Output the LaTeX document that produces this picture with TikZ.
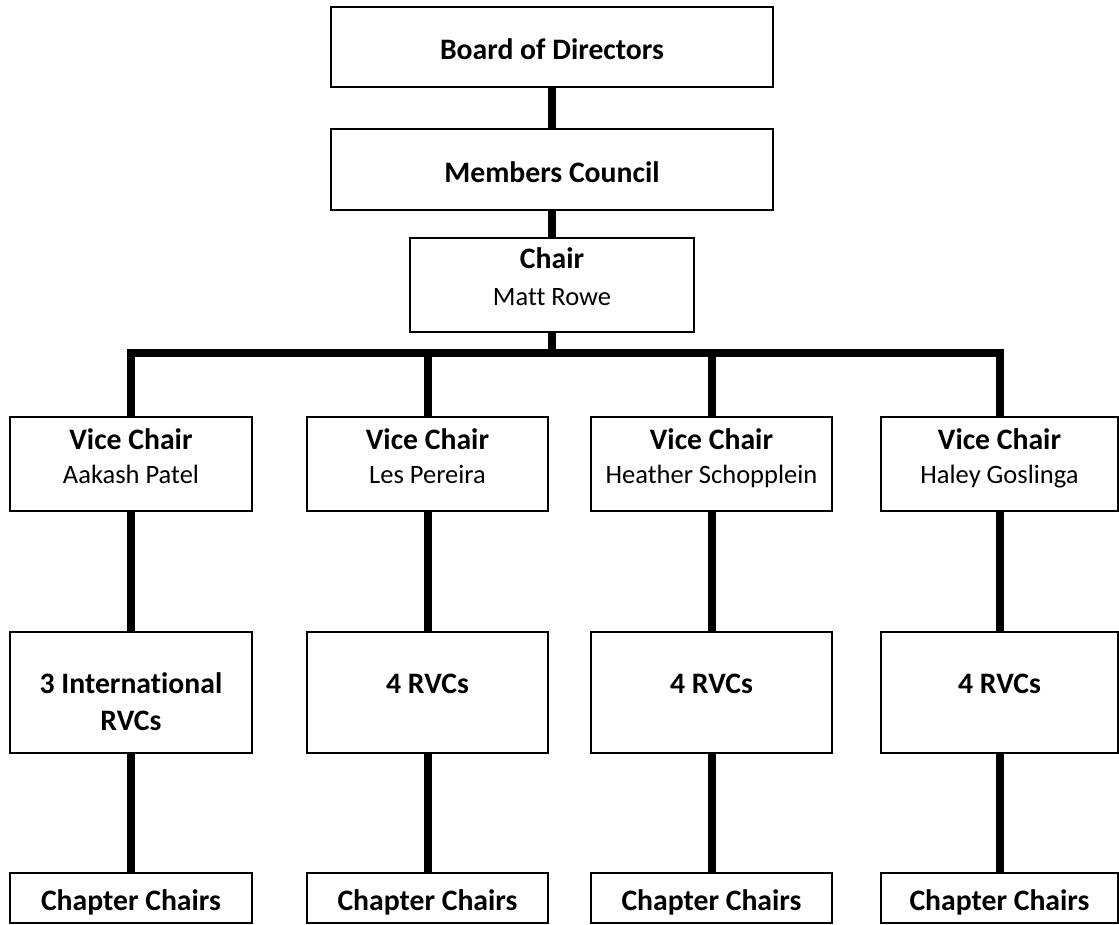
\documentclass[tikz,border=0pt]{standalone}
\usepackage{fontspec}
\setmainfont{Carlito}[Ligatures=CommonOff]
\begin{document}
\begin{tikzpicture}[x=1pt,y=-1pt,
  box/.style={draw=black, line width=1.6pt, fill=white, inner sep=0pt},
  link/.style={draw=black, line width=8pt, line join=miter},
  head/.style={anchor=base, inner sep=0pt, font=\fontsize{29.7}{36}\selectfont\bfseries},
  who/.style={anchor=base, inner sep=0pt, font=\fontsize{26.5}{36}\selectfont}]
\useasboundingbox (0,0) rectangle (1119,924);
% top chain
\node[box, minimum width=442pt, minimum height=80pt] (board) at (552,47) {};
\node[box, minimum width=442pt, minimum height=81pt] (members) at (552,169.5) {};
\node[box, minimum width=284pt, minimum height=94pt] (chair) at (552,285) {};
\node[head] (boardt) at (552,59) {Board of Directors};
\node[head] (memberst) at (552,182) {Members Council};
\node[head] (chairt) at (552,268) {Chair};
\node[who] (chairn) at (552,305) {Matt Rowe};
% vice chairs
\node[box, minimum width=242pt, minimum height=94pt] (v1) at (131,464) {};
\node[box, minimum width=241pt, minimum height=94pt] (v2) at (427.5,464) {};
\node[box, minimum width=241pt, minimum height=94pt] (v3) at (711.5,464) {};
\node[box, minimum width=237pt, minimum height=94pt] (v4) at (999.5,464) {};
\node[head] (v1t) at (131,449) {Vice Chair};
\node[who] (v1n) at (131,483) {Aakash Patel};
\node[head] (v2t) at (427.5,449) {Vice Chair};
\node[who] (v2n) at (427.5,483) {Les Pereira};
\node[head] (v3t) at (711.5,449) {Vice Chair};
\node[who] (v3n) at (711.5,483) {Heather Schopplein};
\node[head] (v4t) at (999.5,449) {Vice Chair};
\node[who] (v4n) at (999.5,483) {Haley Goslinga};
% RVCs
\node[box, minimum width=242pt, minimum height=121pt] (r1) at (131,692.5) {};
\node[box, minimum width=241pt, minimum height=121pt] (r2) at (427.5,692.5) {};
\node[box, minimum width=241pt, minimum height=121pt] (r3) at (711.5,692.5) {};
\node[box, minimum width=237pt, minimum height=121pt] (r4) at (999.5,692.5) {};
\node[head] (r1t) at (131,693) {3 International};
\node[head] (r1u) at (131,730) {RVCs};
\node[head] (r2t) at (427.5,693) {4 RVCs};
\node[head] (r3t) at (711.5,693) {4 RVCs};
\node[head] (r4t) at (999.5,693) {4 RVCs};
% chapter chairs
\node[box, minimum width=242pt, minimum height=50pt] (c1) at (131,898) {};
\node[box, minimum width=241pt, minimum height=50pt] (c2) at (427.5,898) {};
\node[box, minimum width=241pt, minimum height=50pt] (c3) at (711.5,898) {};
\node[box, minimum width=237pt, minimum height=50pt] (c4) at (999.5,898) {};
\node[head] (c1t) at (131,910) {Chapter Chairs};
\node[head] (c2t) at (427.5,910) {Chapter Chairs};
\node[head] (c3t) at (711.5,910) {Chapter Chairs};
\node[head] (c4t) at (999.5,910) {Chapter Chairs};
% connectors
\coordinate (bus) at (552,353);
\draw[link] (board.south) -- (members.north);
\draw[link] (members.south) -- (chair.north);
\draw[link] (chair.south) -- (chair.south |- bus);
\draw[link] (v1.north) -- (v1.north |- bus) -- (v4.north |- bus) -- (v4.north);
\draw[link] (v2.north |- bus) -- (v2.north);
\draw[link] (v3.north |- bus) -- (v3.north);
\foreach \i in {1,2,3,4} {
  \draw[link] (v\i.south) -- (r\i.north);
  \draw[link] (r\i.south) -- (c\i.north);
}
\end{tikzpicture}
\end{document}
